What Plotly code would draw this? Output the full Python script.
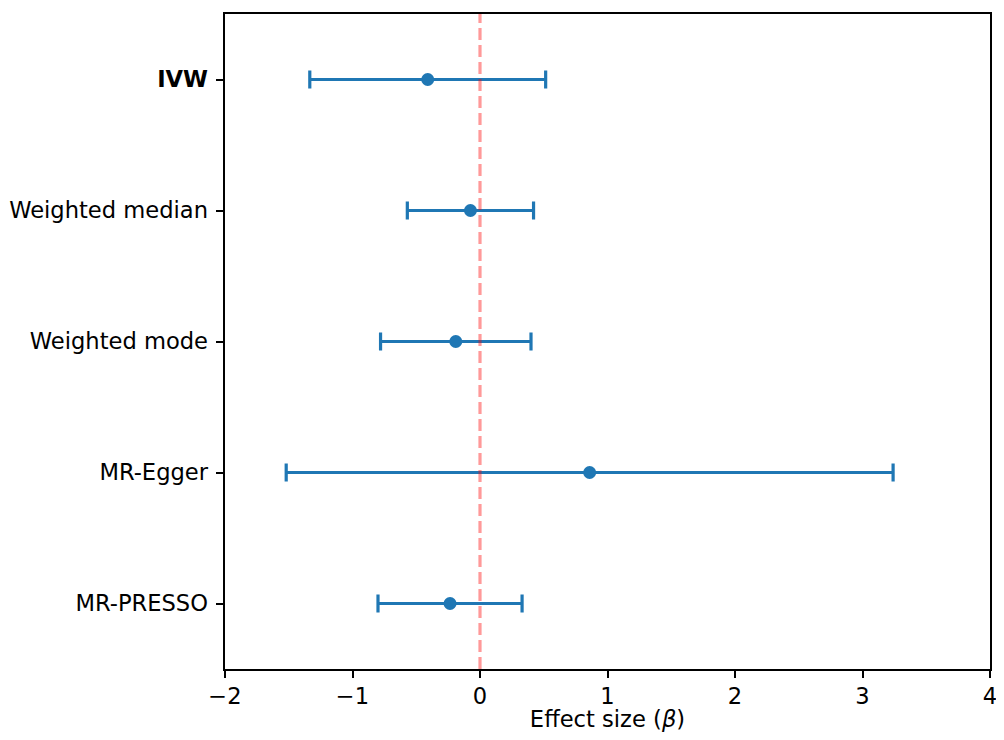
import plotly.graph_objects as go

methods = ["IVW", "Weighted median", "Weighted mode", "MR-Egger", "MR-PRESSO"]
beta = [-0.41, -0.075, -0.19, 0.86, -0.235]
ci_low = [-1.335, -0.57, -0.78, -1.52, -0.80]
ci_high = [0.515, 0.42, 0.40, 3.24, 0.33]
xticks = [-2, -1, 0, 1, 2, 3, 4]
xticklabels = ["\u22122", "\u22121", "0", "1", "2", "3", "4"]

ypos = list(range(len(methods)))
err_plus = [h - b for h, b in zip(ci_high, beta)]
err_minus = [b - l for b, l in zip(beta, ci_low)]
ticktext = ["<b>" + m + "</b>" if m == "IVW" else m for m in methods]

blue = "#1f77b4"
fig = go.Figure()
fig.add_trace(go.Scatter(
    x=beta, y=ypos, mode="markers",
    marker=dict(color=blue, size=13),
    error_x=dict(type="data", symmetric=False, array=err_plus, arrayminus=err_minus,
                 color=blue, thickness=3.2, width=9),
    showlegend=False, hoverinfo="skip",
))
fig.add_shape(type="line", xref="x", yref="paper", x0=0, x1=0, y0=0, y1=1,
              line=dict(color="rgba(255,0,0,0.4)", width=3.2, dash="12px,5px"))

font = dict(family="DejaVu Sans", size=22.6, color="black")
fig.update_layout(
    width=988, height=724,
    margin=dict(l=217, r=6, t=6, b=63),
    paper_bgcolor="white", plot_bgcolor="white",
    font=font,
    xaxis=dict(range=[-2, 4], tickvals=xticks, ticktext=xticklabels,
               showgrid=False, zeroline=False, showline=True, mirror=True,
               linecolor="black", linewidth=1.75, ticks="outside", ticklen=7.6,
               tickwidth=1.75, tickcolor="black", ticklabeloverflow="allow",
               ticklabelstandoff=-2, automargin=False,
               title=dict(text="Effect size (<i>\u03b2</i>)", standoff=9, font=font),
               tickfont=font),
    yaxis=dict(range=[4.5, -0.5], tickvals=ypos, ticktext=ticktext,
               showgrid=False, zeroline=False, showline=True, mirror=True,
               linecolor="black", linewidth=1.75, ticks="outside", ticklen=7.6,
               tickwidth=1.75, tickcolor="black", tickfont=font,
               ticklabelstandoff=3, automargin=False),
)
fig.write_html("out.html", config={"displayModeBar": False})
